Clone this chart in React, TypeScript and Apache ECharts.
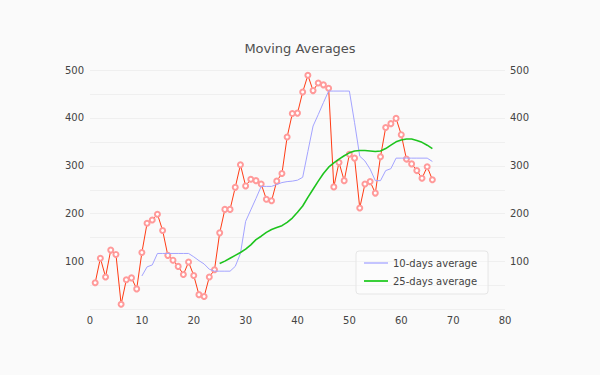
import React, { useEffect, useRef } from "react";
import * as echarts from "echarts";

const title = "Moving Averages";
const rawStartDay = 1;
const rawValues = [
  56, 107, 68, 124, 115, 11, 62, 66, 43, 119, 180, 187, 199, 165, 113, 103, 90, 73, 99, 71,
  31, 27, 68, 83, 160, 209, 209, 255, 302, 258, 272, 269, 262, 230, 227, 268, 284, 360, 409, 410,
  454, 489, 457, 473, 469, 462, 256, 307, 269, 324, 316, 212, 262, 267, 243, 319, 380, 388, 399, 365,
  314, 304, 290, 274, 298, 271,
];
const avg10StartDay = 10;
const avg10Values = [
  70, 89, 93, 117, 117, 117, 117, 117, 117, 117, 110, 102, 95, 84, 80, 80, 80, 80, 90, 117,
  184, 208, 232, 257, 257, 257, 261, 265, 267, 268, 270, 276, 330, 383, 407, 432, 456, 456, 456, 456,
  456, 390, 320, 310, 293, 269, 269, 290, 294, 316, 316, 316, 316, 316, 316, 316, 309,
];
const avg25StartDay = 25;
const avg25Values = [
  96, 101, 107, 113, 119, 126, 135, 146, 153, 161, 167, 171, 175, 182, 191, 203, 216, 234, 251, 268,
  284, 297, 306, 314, 321, 327, 331, 332, 332, 331, 330, 331, 336, 343, 350, 354, 356, 356, 353, 349,
  343, 336,
];
const seriesNames = ["raw", "10-days average", "25-days average"];
const xTicks = { min: 0, max: 80, interval: 10 };
const yTicks = { min: 0, max: 500, interval: 50, labelStep: 100 };

const toPairs = (start: number, vals: number[]) => vals.map((v, i) => [start + i, v]);

const FONT = "DejaVu Sans";

export default function App() {
  const ref = useRef<HTMLDivElement>(null);
  useEffect(() => {
    document.body.style.margin = "0";
    document.body.style.background = "#fafafa";
    const chart = echarts.init(ref.current!, undefined, { renderer: "svg" });
    const yLabel = (v: number) => (v !== 0 && v % yTicks.labelStep === 0 ? String(v) : "");
    const yAxisBase = {
      type: "value",
      min: yTicks.min,
      max: yTicks.max,
      interval: yTicks.interval,
      axisLine: { show: false },
      axisTick: { show: false },
      axisLabel: { formatter: yLabel, color: "#444", fontSize: 10, fontFamily: FONT, margin: 6 },
    };
    chart.setOption({
      animation: false,
      backgroundColor: "#fafafa",
      title: {
        text: title,
        left: "center",
        top: 37,
        textStyle: { fontFamily: FONT, fontSize: 13, fontWeight: "normal", color: "#505050" },
      },
      grid: { left: 90, right: 95, top: 70, bottom: 65.5 },
      legend: {
        data: [seriesNames[1], seriesNames[2]],
        orient: "vertical",
        left: 356,
        top: 251,
        padding: [6, 11, 7, 8],
        itemGap: 6,
        itemWidth: 24,
        itemHeight: 2,
        icon: "rect",
        borderColor: "#e6e6e6",
        borderWidth: 1,
        borderRadius: 3,
        backgroundColor: "rgba(255,255,255,0.35)",
        textStyle: { fontFamily: FONT, fontSize: 10, color: "#444", lineHeight: 12 },
      },
      xAxis: {
        type: "value",
        min: xTicks.min,
        max: xTicks.max,
        interval: xTicks.interval,
        axisLine: { show: false },
        axisTick: { show: false },
        splitLine: { show: false },
        axisLabel: { color: "#444", fontSize: 10, fontFamily: FONT, margin: 6 },
      },
      yAxis: [
        { ...yAxisBase, splitLine: { show: true, lineStyle: { color: "#efefef", width: 1 } } },
        { ...yAxisBase, position: "right", splitLine: { show: false }, axisLabel: { ...yAxisBase.axisLabel, margin: 5 } },
      ],
      series: [
        {
          name: seriesNames[0],
          type: "line",
          data: toPairs(rawStartDay, rawValues),
          symbol: "emptyCircle",
          symbolSize: 5,
          lineStyle: { color: "#ff3b14", width: 1 },
          itemStyle: { color: "#ff9a9a", borderWidth: 0.8 },
          z: 2,
        },
        {
          name: seriesNames[1],
          type: "line",
          data: toPairs(avg10StartDay, avg10Values),
          showSymbol: false,
          lineStyle: { color: "#a3a3ff", width: 1 },
          itemStyle: { color: "#c4c4ff" },
          z: 3,
        },
        {
          name: seriesNames[2],
          type: "line",
          data: toPairs(avg25StartDay, avg25Values),
          showSymbol: false,
          lineStyle: { color: "#1ec41e", width: 1.6 },
          itemStyle: { color: "#3ad03a" },
          z: 4,
        },
      ],
    });
    return () => chart.dispose();
  }, []);
  return (
    <div
      ref={ref}
      style={{ position: "absolute", left: 0, top: 0, width: 600, height: 375, background: "#fafafa" }}
    />
  );
}
